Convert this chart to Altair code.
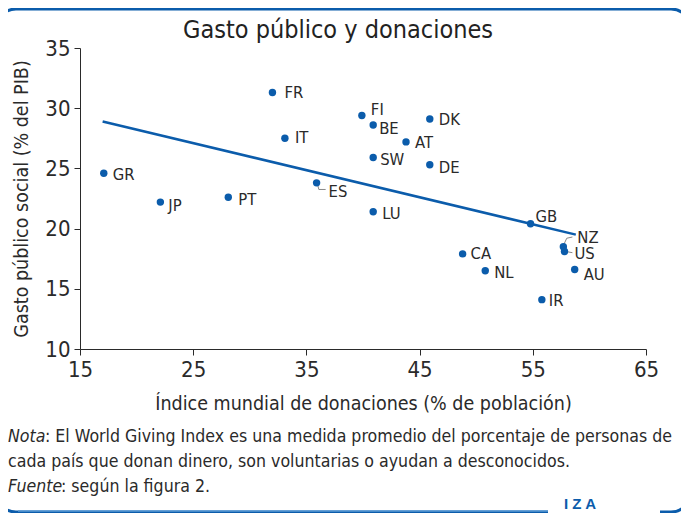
import altair as alt
import pandas as pd

# ---- data ----
countries = ["FR", "FI", "BE", "DK", "AT", "IT", "SW", "DE", "GR", "ES",
             "JP", "PT", "LU", "GB", "NZ", "US", "CA", "NL", "AU", "IR"]
giving = [32.0, 39.9, 40.9, 45.9, 43.8, 33.1, 40.9, 45.9, 17.1, 35.9,
          22.1, 28.1, 40.9, 54.8, 57.7, 57.8, 48.8, 50.8, 58.7, 55.8]
spending = [31.3, 29.4, 28.6, 29.1, 27.2, 27.5, 25.9, 25.3, 24.6, 23.8,
            22.2, 22.6, 21.4, 20.4, 18.5, 18.1, 17.9, 16.5, 16.6, 14.1]

trend_x = [17.0, 58.8]
trend_y = [28.9, 19.5]

x_ticks = [15, 25, 35, 45, 55, 65]
y_ticks = [10, 15, 20, 25, 30, 35]

# leader lines (data units)
leader_id = ["ES", "ES", "ES", "NZ", "NZ", "NZ", "US", "US"]
leader_x = [36.0, 36.1, 36.7, 57.75, 58.0, 58.5, 57.9, 58.5]
leader_y = [23.6, 23.25, 23.25, 18.7, 19.2, 19.3, 18.1, 18.0]

# label offsets in pixels (style, not data)
label_offsets = {
    "FR": (12, 0), "FI": (9, -5), "BE": (6, 4), "DK": (9, 1), "AT": (9, 1),
    "IT": (10, 0), "SW": (7, 2), "DE": (9, 3), "GR": (9, 2), "ES": (12, 9),
    "JP": (8, 4), "PT": (10, 3), "LU": (9, 2), "GB": (5, -7), "NZ": (14, -9),
    "US": (10, 3), "CA": (8, 0), "NL": (9, 2), "AU": (9, 5), "IR": (7, 1),
}

FONT = "'DejaVu Sans Condensed', 'Roboto Condensed', Roboto, sans-serif"
BLUE = "#0b5cab"
TXT = "#2a2a2a"

df = pd.DataFrame({"country": countries, "giving": giving, "spending": spending})
trend = pd.DataFrame({"giving": trend_x, "spending": trend_y})
leaders = pd.DataFrame({"id": leader_id, "giving": leader_x, "spending": leader_y})

W, H = 566, 301
OX, OY = 80, 48  # page position of plot origin

def vx(px):
    return px - OX

def vy(py):
    return py - OY

xs = alt.Scale(domain=[15, 65], nice=False, zero=False)
ys = alt.Scale(domain=[10, 35], nice=False, zero=False)

X = alt.X("giving:Q", scale=xs, axis=alt.Axis(
    values=x_ticks, title="Índice mundial de donaciones (% de población)",
    grid=False, labelFontSize=22, labelColor=TXT, labelFont=FONT, labelPadding=4,
    tickSize=6, tickColor=TXT, domainColor=TXT, titleFont=FONT, titleFontSize=19.5,
    titleFontWeight="normal", titleColor=TXT, titlePadding=14, labelFlush=False))
Y = alt.Y("spending:Q", scale=ys, axis=alt.Axis(
    values=y_ticks, title="Gasto público social (% del PIB)",
    grid=False, labelFontSize=22, labelColor=TXT, labelFont=FONT, labelPadding=4,
    tickSize=6, tickColor=TXT, domainColor=TXT, titleFont=FONT, titleFontSize=19.5,
    titleFontWeight="normal", titleColor=TXT, titlePadding=13, labelFlush=False))

base = alt.Chart(df)

points = base.mark_circle(size=55, color=BLUE, opacity=1).encode(x=X, y=Y)

line = alt.Chart(trend).mark_line(color=BLUE, strokeWidth=2.5).encode(
    x=alt.X("giving:Q", scale=xs), y=alt.Y("spending:Q", scale=ys))

lead = alt.Chart(leaders).mark_line(color="#888888", strokeWidth=1).encode(
    x=alt.X("giving:Q", scale=xs), y=alt.Y("spending:Q", scale=ys), detail="id:N")

label_layers = []
for c in countries:
    dx, dy = label_offsets[c]
    label_layers.append(
        base.transform_filter(alt.datum.country == c).mark_text(
            align="left", baseline="middle", dx=dx, dy=dy, font=FONT,
            fontSize=16.5, color=TXT).encode(
            x=alt.X("giving:Q", scale=xs), y=alt.Y("spending:Q", scale=ys),
            text="country:N"))

# frame
frame = alt.Chart(pd.DataFrame({"a": [0]})).mark_rect(
    fill=None, stroke=BLUE, strokeWidth=3, cornerRadius=20).encode(
    x=alt.value(vx(-4)), x2=alt.value(vx(691)), y=alt.value(vy(9)), y2=alt.value(vy(512)))

cover = alt.Chart(pd.DataFrame({"a": [0]})).mark_rect(fill="white").encode(
    x=alt.value(vx(548)), x2=alt.value(vx(660)), y=alt.value(vy(505)), y2=alt.value(vy(515)))

light = alt.Chart(pd.DataFrame({"a": [0]})).mark_rule(color="#5b9bd5", strokeWidth=1.5).encode(
    x=alt.value(vx(18)), x2=alt.value(vx(548)), y=alt.value(vy(511)))

def txt(s, px, py, size, italic=False, align="left", color=TXT, weight="normal", font=FONT):
    return alt.Chart(pd.DataFrame({"t": [s]})).mark_text(
        align=align, baseline="middle", font=font, fontSize=size,
        fontStyle="italic" if italic else "normal", fontWeight=weight, color=color).encode(
        x=alt.value(vx(px)), y=alt.value(vy(py)), text="t:N")

title = txt("Gasto público y donaciones", 338, 30, 25, align="center", color="#222222")

NS = 17.6
notes = [
    txt("Nota", 8, 437, NS, italic=True),
    txt(": El World Giving Index es una medida promedio del porcentaje de personas de", 45, 437, NS),
    txt("cada país que donan dinero, son voluntarias o ayudan a desconocidos.", 8, 462, NS),
    txt("Fuente", 8, 487, NS, italic=True),
    txt(": según la figura 2.", 61, 487, NS),
]

iza = txt("I Z A", 580, 504, 15, align="center", color=BLUE, weight="bold", font="Liberation Sans")

chart = alt.layer(frame, cover, light, line, lead, points, *label_layers, title, *notes, iza).properties(
    width=W, height=H,
    autosize=alt.AutoSizeParams(type="none"),
    padding={"left": OX - 8, "top": OY - 8, "right": 697 - 8 - OX - W - 8, "bottom": 513 - OY - H},
).configure_view(stroke=None)

chart.save("out.html", embed_options={"renderer": "svg", "actions": False})
